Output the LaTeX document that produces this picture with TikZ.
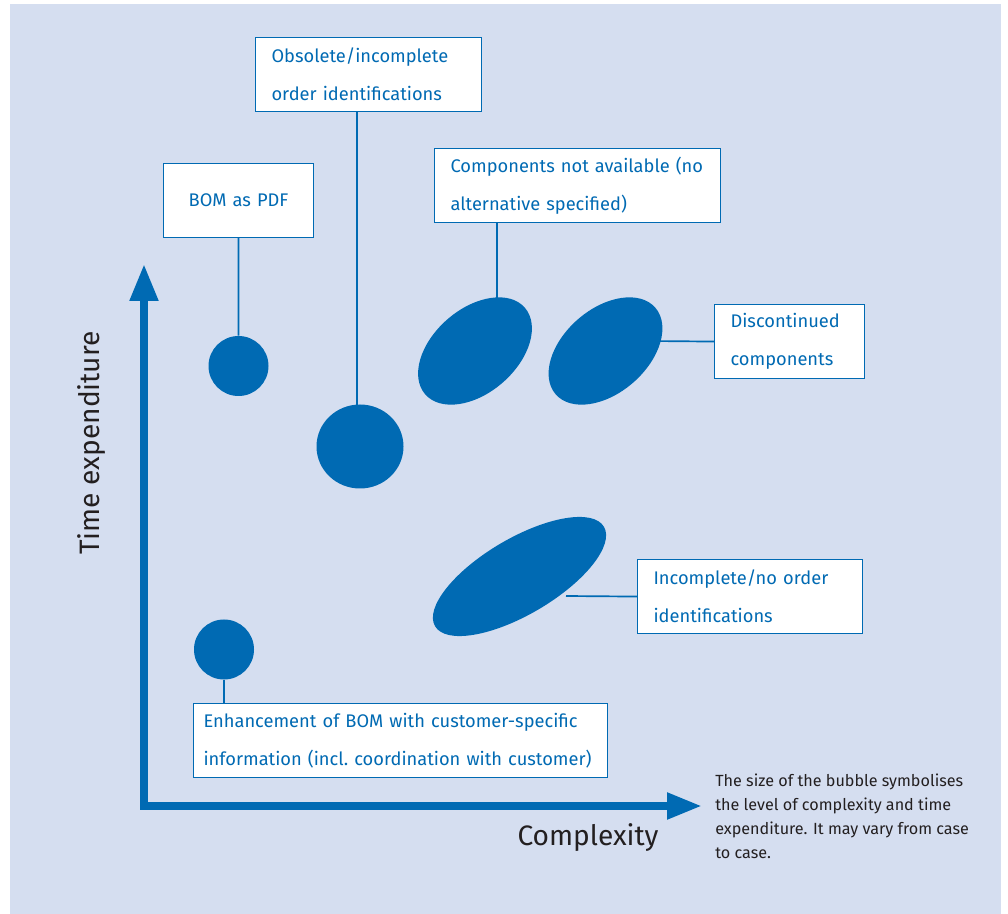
\documentclass[tikz,border=0pt]{standalone}
\usepackage{fontspec}
\setmainfont{Fira Sans}
\usepackage{xcolor}
\usepackage{tikz}
\usetikzlibrary{shapes.geometric, arrows.meta}

\definecolor{chartblue}{HTML}{006AB3}
\definecolor{panelbg}{HTML}{D5DEF0}
\definecolor{inkgray}{HTML}{231F20}

\begin{document}
\begin{tikzpicture}[
        x=0.25mm, y=-0.25mm,
        box/.style={rectangle, draw=chartblue, fill=white, line width=0.8pt, anchor=north west, minimum height=18.5mm, inner xsep=4mm, align=left, text=chartblue, font=\fontsize{13}{27}\selectfont},
        bubble/.style={ellipse, fill=chartblue, inner sep=0pt},
        leader/.style={draw=chartblue, line width=1.2pt},
        axisline/.style={draw=chartblue, line width=2mm, {Triangle[length=9.25mm, width=6.75mm]}-{Triangle[length=8.75mm, width=6.25mm]}},
        axislabel/.style={text=inkgray, font=\fontsize{20}{24}\selectfont, inner sep=0pt},
        notetext/.style={text=inkgray, anchor=north west, align=left, inner sep=0pt, font=\fontsize{11.5}{17}\selectfont}
    ]
        \useasboundingbox (0,0) rectangle (1008,914);
        \fill[panelbg] (10,4) rectangle (1001,914);

        % Text boxes
        \node (obsBox) [box, text width=48.5mm] at (255,37) {Obsolete/incomplete\\order identifications};
        \node (bomBox) [box, text width=29.5mm, align=center] at (163,163) {BOM as PDF};
        \node (compBox) [box, text width=63.5mm] at (434,148) {Components not available (no\\alternative specified)};
        \node (discBox) [box, text width=29.5mm] at (714,304) {Discontinued\\components};
        \node (incBox) [box, text width=48.25mm] at (637,559) {Incomplete/no order\\identifications};
        \node (enhBox) [box, text width=98.5mm, inner xsep=2.5mm] at (193,703) {Enhancement of BOM with customer-specific\\information (incl.~coordination with customer)};

        % Bubbles
        \node (bomBubble) [bubble, minimum width=15mm, minimum height=15mm] at (238.5,366) {};
        \node (obsBubble) [bubble, minimum width=21.75mm, minimum height=21mm] at (360,446.5) {};
        \node (compBubble) [bubble, minimum width=33mm, minimum height=21mm, rotate=41] at (475,351) {};
        \node (discBubble) [bubble, minimum width=33mm, minimum height=21mm, rotate=41] at (605.5,351) {};
        \node (incBubble) [bubble, minimum width=49mm, minimum height=19mm, rotate=30.5] at (519.5,576.5) {};
        \node (enhBubble) [bubble, minimum width=15mm, minimum height=15mm] at (224,649.5) {};

        % Leader lines
        \coordinate (obsPin) at (357,420);
        \coordinate (compPin) at (497,310);
        \coordinate (discPin) at (650,341);
        \coordinate (incPin) at (566,596);
        \draw [leader] (bomBox.south) -- (bomBubble.north);
        \draw [leader] (obsBox.south -| obsPin) -- (obsPin);
        \draw [leader] (compBox.south -| compPin) -- (compPin);
        \draw [leader] (discBox.west) -- (discPin);
        \draw [leader] (incBox.west) -- (incPin);
        \draw [leader] (enhBubble.south) -- (enhBubble.south |- enhBox.north);

        % Axes
        \coordinate (yTip) at (144,264);
        \coordinate (xTip) at (702,806);
        \draw [axisline] (yTip) |- (xTip);
        \node (timeLabel) [axislabel, rotate=90] at (92,443) {Time expenditure};
        \node (complexLabel) [axislabel] at (588,838) {Complexity};

        % Note
        \node (sizeNote) [notetext] at (715,774) {The size of the bubble symbolises\\the level of complexity and time\\expenditure. It may vary from case\\to case.};
    \end{tikzpicture}
\end{document}
